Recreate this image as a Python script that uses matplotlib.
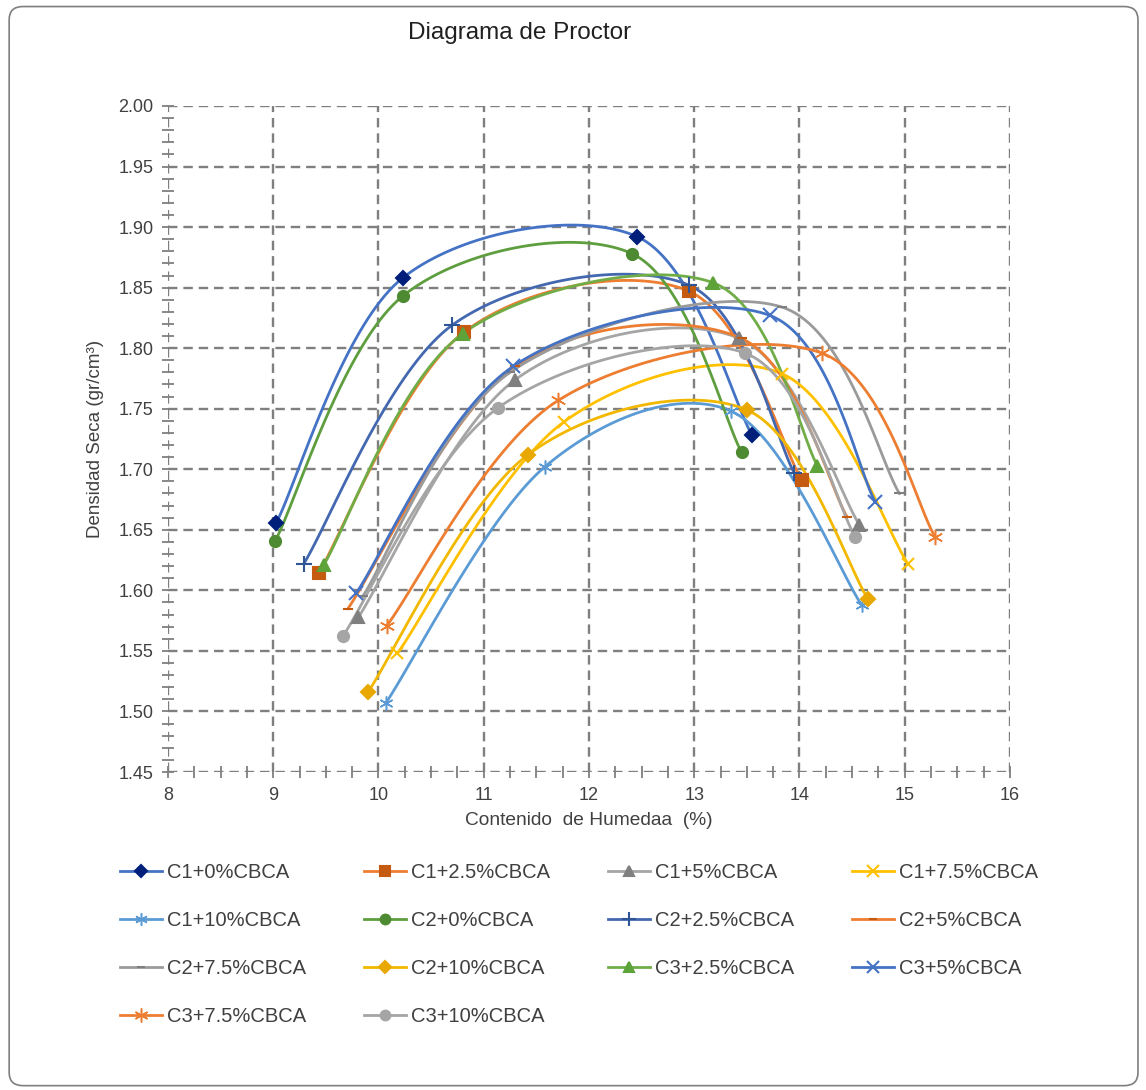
import numpy as np
import matplotlib
matplotlib.use('Agg')
from matplotlib import pyplot as plt
from matplotlib.patches import FancyBboxPatch
from matplotlib.ticker import MultipleLocator, FormatStrFormatter

plt.rcParams['font.family'] = ['Liberation Sans', 'DejaVu Sans']

# series data: humidity (%) and dry density (gr/cm3)
names = ['C1+0%CBCA', 'C1+2.5%CBCA', 'C1+5%CBCA', 'C1+7.5%CBCA', 'C1+10%CBCA',
         'C2+0%CBCA', 'C2+2.5%CBCA', 'C2+5%CBCA', 'C2+7.5%CBCA', 'C2+10%CBCA',
         'C3+2.5%CBCA', 'C3+5%CBCA', 'C3+7.5%CBCA', 'C3+10%CBCA']

x_c1_0 = [9.03, 10.23, 12.46, 13.55]
y_c1_0 = [1.656, 1.858, 1.892, 1.728]
x_c1_25 = [9.43, 10.81, 12.95, 14.02]
y_c1_25 = [1.614, 1.813, 1.847, 1.691]
x_c1_5 = [9.81, 11.30, 13.43, 14.57]
y_c1_5 = [1.578, 1.774, 1.808, 1.654]
x_c1_75 = [10.18, 11.76, 13.83, 15.03]
y_c1_75 = [1.548, 1.739, 1.779, 1.622]
x_c1_10 = [10.07, 11.58, 13.35, 14.59]
y_c1_10 = [1.507, 1.702, 1.748, 1.588]

x_c2_0 = [9.02, 10.23, 12.41, 13.45]
y_c2_0 = [1.641, 1.843, 1.878, 1.714]
x_c2_25 = [9.29, 10.70, 12.95, 13.95]
y_c2_25 = [1.622, 1.819, 1.852, 1.697]
x_c2_5 = [9.71, 11.30, 13.45, 14.45]
y_c2_5 = [1.585, 1.785, 1.808, 1.661]
x_c2_75 = [9.85, 11.25, 13.83, 14.95]
y_c2_75 = [1.595, 1.780, 1.834, 1.680]
x_c2_10 = [9.90, 11.42, 13.50, 14.65]
y_c2_10 = [1.516, 1.712, 1.749, 1.593]

x_c3_25 = [9.48, 10.80, 13.18, 14.17]
y_c3_25 = [1.621, 1.812, 1.854, 1.703]
x_c3_5 = [9.79, 11.28, 13.72, 14.72]
y_c3_5 = [1.598, 1.785, 1.827, 1.673]
x_c3_75 = [10.08, 11.71, 14.21, 15.29]
y_c3_75 = [1.571, 1.757, 1.796, 1.644]
x_c3_10 = [9.66, 11.14, 13.48, 14.53]
y_c3_10 = [1.562, 1.751, 1.796, 1.644]

xs = [x_c1_0, x_c1_25, x_c1_5, x_c1_75, x_c1_10, x_c2_0, x_c2_25, x_c2_5,
      x_c2_75, x_c2_10, x_c3_25, x_c3_5, x_c3_75, x_c3_10]
ys = [y_c1_0, y_c1_25, y_c1_5, y_c1_75, y_c1_10, y_c2_0, y_c2_25, y_c2_5,
      y_c2_75, y_c2_10, y_c3_25, y_c3_5, y_c3_75, y_c3_10]

asterisk = (6, 2, 0)
line_colors = ['#4472C4', '#ED7D31', '#A5A5A5', '#FFC000', '#5B9BD5', '#5E9E3E', '#4468B0',
               '#ED7D31', '#9A9A9A', '#F2B800', '#70AD47', '#4472C4', '#ED7D31', '#A5A5A5']
mark_colors = ['#001F7A', '#C55A11', '#7F7F7F', '#FFC000', '#5B9BD5', '#4E8A32', '#2F5597',
               '#C55A11', '#7F7F7F', '#E8A800', '#5EA33A', '#4472C4', '#ED7D31', '#A5A5A5']
markers = ['D', 's', '^', 'x', asterisk, 'o', '+', '_', '_', 'D', '^', 'x', asterisk, 'o']
msizes = [7, 8, 8, 9, 10, 8, 11, 7, 7, 7, 8, 10, 11, 8]
mwidths = [1.5, 1.5, 1.5, 1.5, 1.1, 1.5, 1.5, 1.5, 1.5, 1.5, 1.5, 1.5, 1.1, 1.5]


def smooth(x, y, n=40):
    # excel-like smoothed line (catmull-rom through the points)
    p = np.column_stack([x, y]).astype(float)
    p = np.vstack([p[0], p, p[-1]])
    out = []
    t = np.linspace(0, 1, n)[:, None]
    for i in range(1, len(p) - 2):
        p0, p3 = p[i], p[i + 1]
        c1 = p0 + (p[i + 1] - p[i - 1]) / 6
        c2 = p3 - (p[i + 2] - p[i]) / 6
        seg = (1 - t) ** 3 * p0 + 3 * (1 - t) ** 2 * t * c1 + 3 * (1 - t) * t ** 2 * c2 + t ** 3 * p3
        out.append(seg)
    out = np.vstack(out)
    return out[:, 0], out[:, 1]


fig = plt.figure(figsize=(11.46, 10.9), dpi=100)
fig.patches.append(FancyBboxPatch((0.008, 0.004), 0.985, 0.99, boxstyle='round,pad=0,rounding_size=0.012',
                                  transform=fig.transFigure, fc='none', ec='#7F7F7F', lw=1.2, zorder=-1))
ax = fig.add_axes([0.1466, 0.2917, 0.7347, 0.6111])

handles = []
for i in range(len(names)):
    sx, sy = smooth(xs[i], ys[i])
    ax.plot(sx, sy, color=line_colors[i], lw=2, zorder=3)
    ax.plot(xs[i], ys[i], ls='none', marker=markers[i], ms=msizes[i], color=mark_colors[i],
            mec=mark_colors[i], mew=mwidths[i], zorder=4)
    h, = ax.plot([], [], color=line_colors[i], lw=2, marker=markers[i], ms=msizes[i] - 1,
                 mfc=mark_colors[i], mec=mark_colors[i], mew=mwidths[i])
    handles.append(h)

ax.set_xlim(8, 16)
ax.set_ylim(1.45, 2.00)
ax.xaxis.set_major_locator(MultipleLocator(1))
ax.xaxis.set_minor_locator(MultipleLocator(0.25))
ax.yaxis.set_major_locator(MultipleLocator(0.05))
ax.yaxis.set_minor_locator(MultipleLocator(0.01))
ax.yaxis.set_major_formatter(FormatStrFormatter('%.2f'))
ax.grid(True, which='major', color='#7F7F7F', ls=(0, (4, 2.5)), lw=1.7, zorder=1)
for s in ax.spines.values():
    s.set_visible(False)
ax.tick_params(which='both', direction='inout', color='#7F7F7F', width=1.3, labelsize=13,
               labelcolor='#404040')
ax.tick_params(which='major', length=9, pad=6)
ax.tick_params(which='minor', length=8)

ax.set_xlabel('Contenido  de Humedaa  (%)', fontsize=13.8, color='#404040', labelpad=6)
ax.set_ylabel('Densidad Seca (gr/cm³)', fontsize=13.5, color='#404040', labelpad=10)
fig.text(0.453, 0.970, 'Diagrama de Proctor', fontsize=17.5, ha='center', va='center', color='#202020')

order = [0, 4, 8, 12, 1, 5, 9, 13, 2, 6, 10, 3, 7, 11]
fig.legend([handles[k] for k in order], [names[k] for k in order], ncol=4, loc='upper left',
           bbox_to_anchor=(0.089, 0.225), frameon=False, fontsize=14.5, handlelength=2.1,
           handletextpad=0.25, columnspacing=2.85, labelspacing=1.45, labelcolor='#404040')

fig.savefig('out.png', dpi=100)
